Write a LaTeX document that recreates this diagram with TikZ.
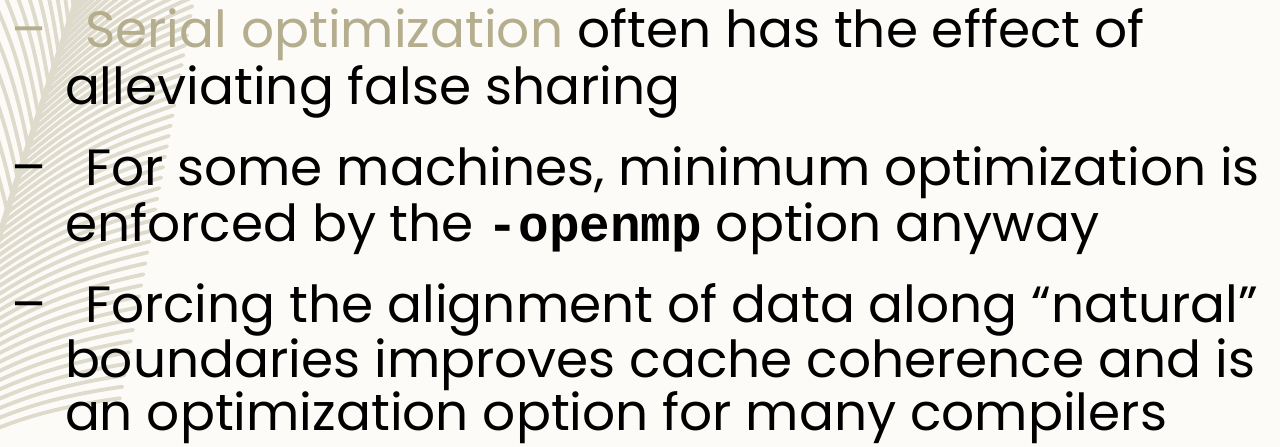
\documentclass[tikz,border=0pt]{standalone}
\usepackage{fontspec}
\setmainfont[FakeStretch=1.015]{Poppins}
\newfontfamily\codefont{Liberation Mono}
\definecolor{paper}{HTML}{FCFBF7}
\definecolor{frond}{HTML}{DEDACC}
\definecolor{accent}{HTML}{B4AE8E}
\tikzset{
  txt/.style={anchor=base west, inner sep=0pt, outer sep=0pt,
    font=\fontsize{51}{56}\selectfont, text=black},
  lead/.style={txt, text=accent},
  barb/.style={draw=frond, line width=3.8pt, line cap=round},
  rachis/.style={draw=frond, line width=6pt, line cap=round},
}
% point on the curved rachis of the frond, parameter #1 in [0,1]
\newcommand\rachisx[1]{((1-#1)*(1-#1)*(-70)+2*#1*(1-#1)*10+#1*#1*80)}
\newcommand\rachisy[1]{((1-#1)*(1-#1)*460+2*#1*(1-#1)*200+#1*#1*(-10))}
\begin{document}
\begin{tikzpicture}[x=1pt,y=-1pt]
  % page
  \fill[paper] (0,0) rectangle (1280,447);
  \useasboundingbox (0,0) rectangle (1280,447);
  % palm frond in the corner
  \begin{scope}
    \clip (0,0) rectangle (1280,447);
    \draw[rachis] (-70,460) .. controls (10,200) .. (80,-10);
    % barbs on the right of the rachis: shallow, pointing up-right
    \foreach \t in {0,0.02,...,1.0}{
      \pgfmathsetmacro{\sx}{\rachisx{\t}}
      \pgfmathsetmacro{\sy}{\rachisy{\t}}
      \pgfmathsetmacro{\len}{200-30*\t}
      \pgfmathsetmacro{\ang}{18+20*\t}
      \draw[barb] (\sx,\sy) to[bend left=10] ++({\len*cos(\ang)},{-\len*sin(\ang)});
    }
    % barbs on the left of the rachis: steep, pointing up
    \foreach \t in {0.5,0.535,...,1.0}{
      \pgfmathsetmacro{\sx}{\rachisx{\t}}
      \pgfmathsetmacro{\sy}{\rachisy{\t}}
      \pgfmathsetmacro{\ang}{118-14*\t}
      \draw[barb] (\sx,\sy) to[bend right=8] ++({170*cos(\ang)},{-170*sin(\ang)});
    }
  \end{scope}

  % first point
  \node[lead] (d1) at (12,47) {–};
  \node[txt] (l1) at (85,47) {\textcolor{accent}{Serial optimization} often has the effect of};
  \node[txt] (l2) at (65,104) {alleviating false sharing};
  % second point
  \node[txt] (d2) at (12,185) {–};
  \node[txt] (l3) at (85,185) {For some machines, minimum optimization is};
  \node[txt] (l4) at (65,241) {enforced by the {\codefont\bfseries -openmp} option anyway};
  % third point
  \node[txt] (d3) at (12,322) {–};
  \node[txt] (l5) at (85,322) {Forcing the alignment of data along “natural”};
  \node[txt] (l6) at (65,377) {boundaries improves cache coherence and is};
  \node[txt] (l7) at (65,430) {an optimization option for many compilers};
\end{tikzpicture}
\end{document}
